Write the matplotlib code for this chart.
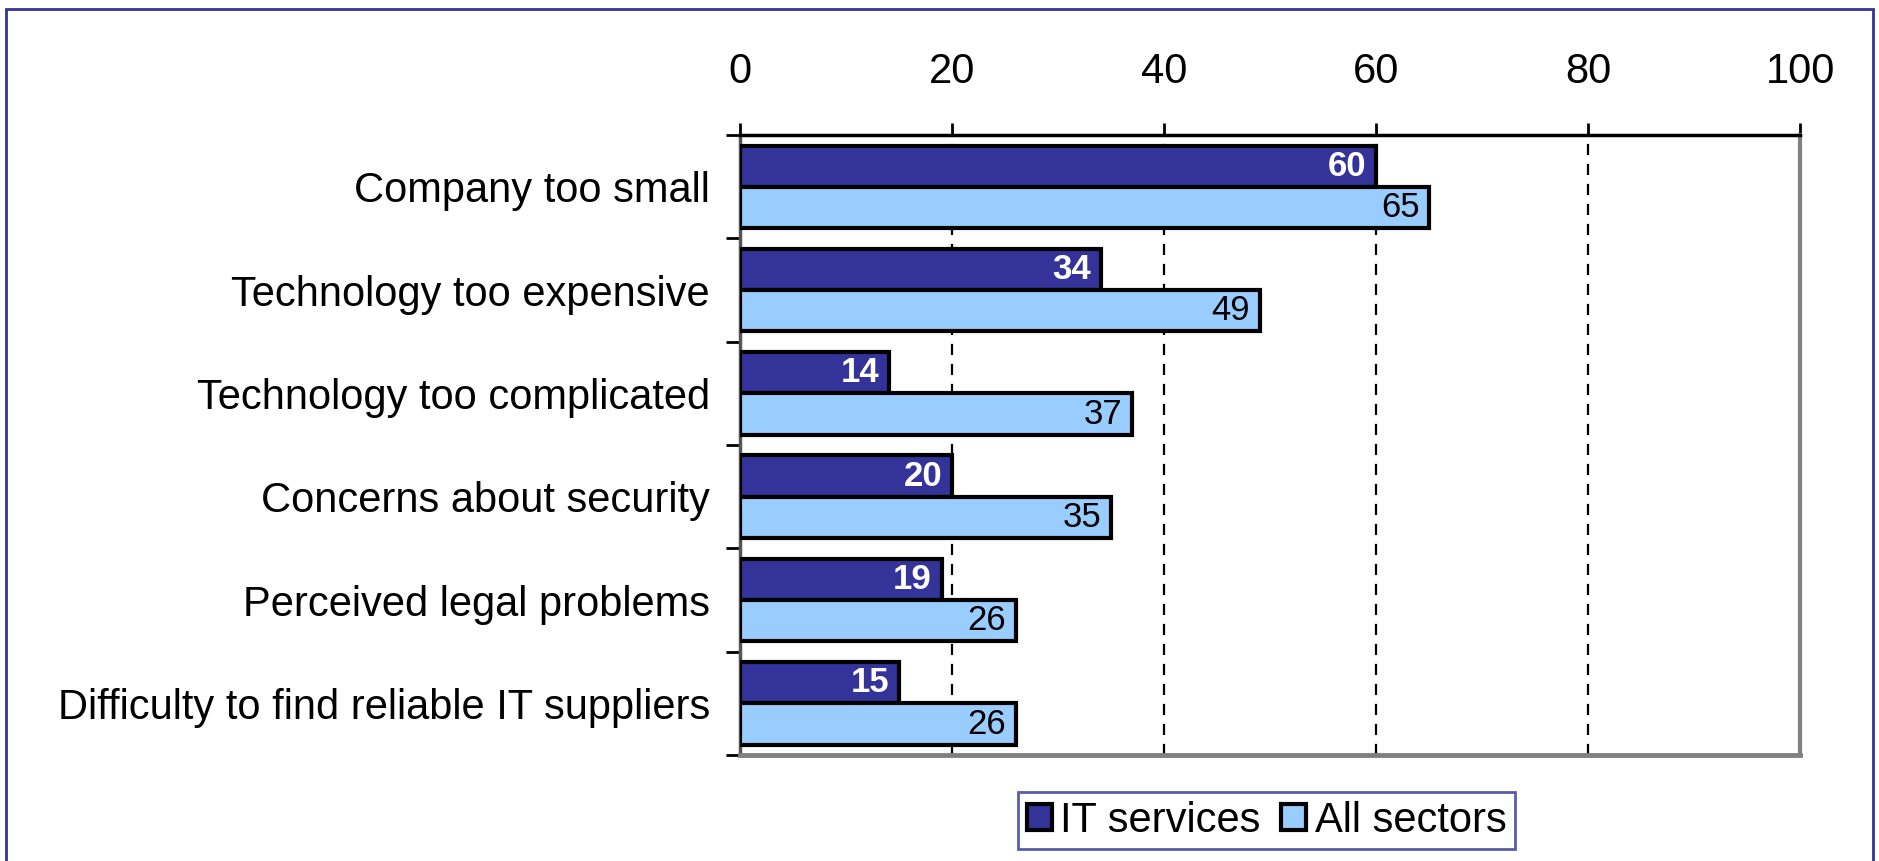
#! /usr/bin/env python

import numpy as np
import matplotlib.pyplot as plt
from matplotlib.patches import Rectangle

categories = ['Company too small', 'Technology too expensive',
              'Technology too complicated', 'Concerns about security',
              'Perceived legal problems',
              'Difficulty to find reliable IT suppliers']
it_services = [60, 34, 14, 20, 19, 15]
all_sectors = [65, 49, 37, 35, 26, 26]
series_names = ['IT services', 'All sectors']
x_ticks = [0, 20, 40, 60, 80, 100]

dark = '#333399'
light = '#99CCFF'

plt.rcParams['font.family'] = ['Liberation Sans', 'DejaVu Sans']

fig = plt.figure(figsize=(18.79, 8.61), dpi=100)
ax = fig.add_axes([0.394, 0.123, 0.564, 0.72])

y = np.arange(len(categories))
h = 0.4
b1 = ax.barh(y - h / 2, it_services, height=h, color=dark, edgecolor='black',
             linewidth=3, label=series_names[0], zorder=3)
b2 = ax.barh(y + h / 2, all_sectors, height=h, color=light, edgecolor='black',
             linewidth=3, label=series_names[1], zorder=3)

for bar, v in zip(b1, it_services):
    ax.annotate(str(v), (bar.get_width(), bar.get_y() + bar.get_height() / 2),
                xytext=(-7, 0), textcoords='offset points', ha='right',
                va='center', color='white', fontsize=25, fontweight='bold',
                zorder=4)
for bar, v in zip(b2, all_sectors):
    ax.annotate(str(v), (bar.get_width(), bar.get_y() + bar.get_height() / 2),
                xytext=(-7, 0), textcoords='offset points', ha='right',
                va='center', color='black', fontsize=25, zorder=4)

ax.set_xlim(0, 100)
ax.set_ylim(len(categories) - 0.5, -0.5)
ax.set_xticks(x_ticks)
ax.set_xticklabels([str(t) for t in x_ticks])
ax.xaxis.tick_top()
ax.tick_params(axis='x', labelsize=30, length=9, width=2, pad=22)
ax.set_yticks(np.arange(len(categories) + 1) - 0.5, minor=False)
ax.set_yticklabels([])
ax.set_yticks(y, minor=True)
ax.set_yticklabels(categories, minor=True)
ax.tick_params(axis='y', which='major', length=10, width=2)
ax.tick_params(axis='y', which='minor', length=0, labelsize=30, pad=22)

for xv in x_ticks[1:-1]:
    ax.axvline(xv, color='black', linestyle=(0, (5, 4)), linewidth=1.6,
               zorder=1)

ax.spines['top'].set_color('black')
ax.spines['top'].set_linewidth(2.5)
ax.spines['left'].set_color('#555555')
ax.spines['left'].set_linewidth(2.5)
ax.spines['right'].set_color('#808080')
ax.spines['right'].set_linewidth(3)
ax.spines['bottom'].set_color('#808080')
ax.spines['bottom'].set_linewidth(3.5)

leg = fig.legend(handles=[b1, b2], labels=series_names, loc='center',
                 bbox_to_anchor=(0.674, 0.047), ncol=2, fontsize=30,
                 frameon=True, fancybox=False, handlelength=0.6,
                 handleheight=0.6, handletextpad=0.2, columnspacing=0.5,
                 borderpad=0.2, borderaxespad=0)
leg.get_frame().set_edgecolor(dark)
leg.get_frame().set_linewidth(2)

fig.patches.append(Rectangle((0.003, -0.05), 0.994, 1.04,
                             transform=fig.transFigure, fill=False,
                             edgecolor=dark, linewidth=2))

fig.savefig('out.png', dpi=100)
